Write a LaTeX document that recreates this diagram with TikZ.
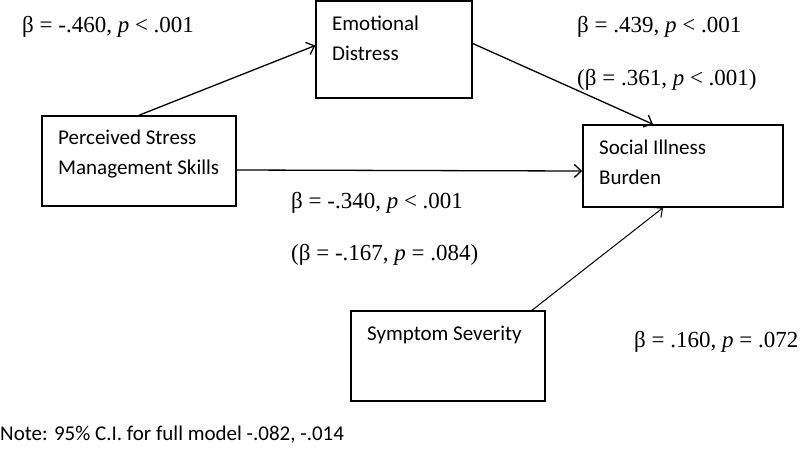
\documentclass[tikz,border=0pt]{standalone}
\usepackage{fontspec}
\setmainfont{Liberation Serif}
\newfontfamily\boxfont{Carlito}
\usetikzlibrary{arrows.meta, positioning}
\tikzset{
>={Straight Barb[length=7pt,width=13pt]}, % open arrow heads
varbox/.style={draw, line width=1.5pt, inner sep=0pt}, % the variable boxes
boxtext/.style={font=\boxfont\fontsize{21}{30}\selectfont, align=left, anchor=base west, inner sep=0pt}, % base = last line
coef/.style={font=\fontsize{23}{27}\selectfont, anchor=base west, inner sep=0pt}, % path coefficients
effect/.style={->, line width=1.3pt},
}

\begin{document}
\begin{tikzpicture}[x=1pt, y=-1pt]
  \useasboundingbox (0,0) rectangle (800,451);

  % Variables
  \node[varbox, minimum width=156pt, minimum height=97pt] (emo) at (394,49.5) {};
  \node[varbox, minimum width=194pt, minimum height=90pt] (pssm) at (139,161) {};
  \node[varbox, minimum width=200pt, minimum height=82pt] (sib) at (683,166) {};
  \node[varbox, minimum width=194pt, minimum height=90pt] (sev) at (448,356) {};

  \node[boxtext] (emotxt) at (332,60) {Emotional\\Distress};
  \node[boxtext] (pssmtxt) at (58,174) {Perceived Stress\\Management Skills};
  \node[boxtext] (sibtxt) at (599,184) {Social Illness\\Burden};
  \node[boxtext] (sevtxt) at (367,340) {Symptom Severity};

  % Paths
  \draw[effect] (pssm.north) -- ([yshift=4pt]emo.west);
  \draw[effect] ([yshift=6pt]emo.east) -- ([xshift=-30pt]sib.north);
  \draw[effect] ([yshift=-9pt]pssm.east) -- ([yshift=-5pt]sib.west);
  \draw[effect, line width=1pt] ([xshift=84pt]sev.north) -- ([xshift=-20pt]sib.south);

  % Coefficients
  \node[coef] (cemo) at (22,32) {β = -.460, \textit{p} < .001};
  \node[coef] (csib) at (577,32) {β = .439, \textit{p} < .001};
  \node[coef] (csibadj) at (577,85) {(β = .361, \textit{p} < .001)};
  \node[coef] (ctot) at (291,208) {β = -.340, \textit{p} < .001};
  \node[coef] (cdir) at (291,260) {(β = -.167, \textit{p} = .084)};
  \node[coef] (csev) at (634,347) {β = .160, \textit{p} = .072};

  \node[boxtext] (note) at (0,440) {Note: 95\% C.I. for full model -.082, -.014};
\end{tikzpicture}
\end{document}
